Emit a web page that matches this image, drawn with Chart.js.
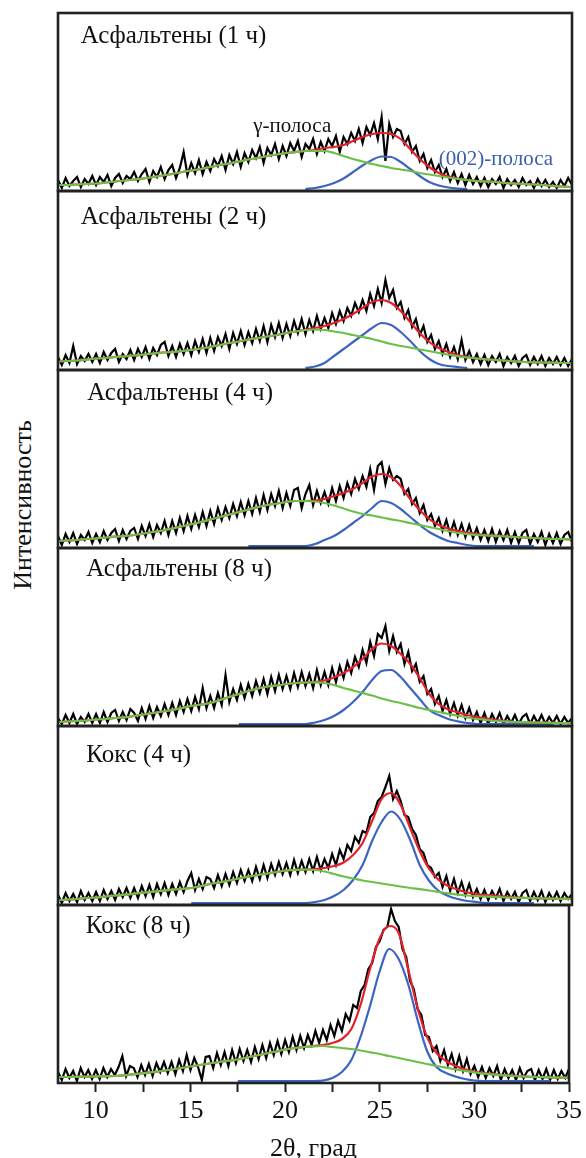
<!DOCTYPE html>
<html lang="ru">
<head>
<meta charset="utf-8">
<title>Рентгенограммы асфальтенов и кокса</title>
<script src="https://cdn.jsdelivr.net/npm/chart.js@4.4.1/dist/chart.umd.min.js"></script>
<style>
  html, body { margin: 0; padding: 0; background: #fff; overflow: hidden; }
  #wrap { position: relative; width: 586px; height: 1158px; }
  #wrap canvas { position: absolute; left: 0; }
  #ylab {
    position: absolute; left: 23px; top: 505px;
    transform: translate(-50%, -50%) rotate(-90deg);
    font: 26px "Liberation Serif", "Times New Roman", serif;
    color: #111; white-space: nowrap;
  }
</style>
</head>
<body>
<div id="wrap">
  <div id="ylab">Интенсивность</div>
</div>
<script>
// 2θ grids: raw scan and fitted profiles
var scanStart = 8, scanStep = 0.2;
var fitStart = 8, fitStep = 0.5;

var xMin = 8, xMax = 35;
var xLabelled = [10, 15, 20, 25, 30, 35];

var panelLabels = ['Асфальтены (1 ч)', 'Асфальтены (2 ч)', 'Асфальтены (4 ч)',
                   'Асфальтены (8 ч)', 'Кокс (4 ч)', 'Кокс (8 ч)'];

// raw intensity, one value per 0.2 deg from 8 to 35
var raw1 = [9,1,11,3,8,12,2,10,5,13, 4,12,7,14,3,11,15,6,13,10, 17,8,15,20,7,18,12,22,10,19,
  24,11,21,37,14,26,16,29,15,27, 18,30,23,33,19,34,25,37,22,36, 27,39,31,42,26,41,34,45,30,43,
  33,46,38,48,32,45,40,50,35,47, 38,50,43,53,37,52,45,56,48,60, 46,62,54,66,50,72,28,65,52,60,
  58,45,52,37,43,28,35,21,29,17, 24,12,20,8,17,6,15,4,14,5, 12,3,11,2,10,5,12,1,10,4,
  9,2,11,4,8,1,10,3,9,2, 7,1,9,3,11,4];
var raw2 = [11,3,13,5,22,4,12,7,14,6, 14,5,16,8,15,19,6,14,9,18, 8,19,11,21,9,20,13,23,26,12,
  22,11,24,14,25,13,27,16,29,15, 30,17,31,22,34,19,35,24,37,23, 36,25,39,27,42,26,43,31,45,30,
  44,32,47,35,49,34,48,37,52,39, 50,40,55,44,57,47,60,52,65,56, 68,57,74,62,79,65,88,70,78,60,
  66,50,58,41,49,33,42,26,33,19, 27,14,24,11,21,9,28,8,17,6, 14,4,13,3,12,6,14,2,11,5,
  12,2,10,13,3,11,4,12,2,10, 4,11,3,10,2,9];
var raw3 = [10,1,12,4,13,2,11,6,14,3, 12,4,15,6,13,17,5,16,7,15, 18,7,20,10,22,9,21,13,25,11,
  25,13,28,15,30,17,31,19,34,20, 35,22,38,26,39,28,42,30,44,31, 45,32,48,34,51,36,52,40,55,38,
  53,40,56,58,38,52,61,41,55,43, 54,42,58,45,60,48,63,52,67,57, 70,59,77,56,80,84,62,78,66,70,
  67,52,57,42,48,33,41,26,32,20, 28,15,26,12,24,11,22,9,21,8, 18,6,16,5,17,4,15,6,16,3,
  14,3,13,16,2,12,4,14,1,12, 3,13,2,11,14,4];
var raw4 = [6,0,9,1,10,0,7,2,10,1, 10,1,12,2,11,14,3,12,4,15, 11,3,16,5,18,6,17,8,20,9,
  21,9,23,12,25,13,27,15,36,16, 28,16,31,19,49,22,35,24,39,26, 40,28,43,31,45,30,47,33,49,35,
  48,35,51,37,52,38,50,36,54,39, 52,39,56,42,58,46,62,51,67,57, 74,61,82,68,90,86,98,73,88,72,
  80,60,72,53,60,42,48,30,35,20, 28,13,24,10,21,8,19,6,16,4, 12,1,11,0,10,2,11,0,8,1,
  9,0,7,10,0,8,1,9,0,7, 1,8,0,7,1,6];
var raw5 = [8,0,10,2,9,1,12,3,10,2, 11,2,13,4,12,3,14,6,15,5, 15,5,17,7,18,6,19,9,20,8,
  19,9,21,11,22,30,13,24,14,26, 24,15,28,17,29,18,31,20,33,22, 33,22,36,24,38,25,39,28,41,29,
  40,28,43,30,42,31,44,32,46,33, 44,35,49,38,53,44,58,52,66,60, 72,70,86,90,102,106,116,127,104,112,
  102,88,86,74,68,54,50,38,35,26, 30,16,27,12,24,10,21,8,19,6, 14,4,13,3,12,5,14,2,11,4,
  11,1,10,13,2,11,3,12,1,10, 3,11,2,10,4,9];
var raw6 = [9,1,12,3,10,0,13,4,11,2, 11,2,13,4,12,6,14,25,5,15, 13,4,16,6,17,5,18,9,19,8,
  19,7,21,10,26,11,23,14,1,24, 25,13,28,16,29,15,31,18,32,20, 31,19,34,22,36,23,38,26,40,27,
  41,29,44,31,45,33,46,36,50,38, 51,41,56,45,60,50,67,60,76,73, 90,96,112,118,134,140,151,154,172,160,
  154,132,124,100,92,72,66,46,44,30, 35,20,31,16,27,12,25,10,22,7, 15,4,14,3,13,5,15,1,12,3,
  11,1,13,3,10,12,1,11,2,12, 1,11,2,10,3,12];

// fitted profiles, one value per 0.5 deg from 8 to 35
// gamma band (green)
var gamma1 = [4,4,4.5,5,5.5,6.5,7.5,8.5,9.5,10.5, 12,13.5,15,17,18.5,20,22,24,25.5,27.5,
  29.5,31,33,34.5,36,37,38,38,38,36, 33,30,27.5,25,23,21,19.5,18,16,14.5,
  13,11.5,10,9,8,7.5,7,6,5.5,5, 4.5,4,3,2.5,2];
var gamma2 = [6.5,7,7.5,8.5,9.5,10,11,11.7,12.5,13.5, 14.5,15.5,16,17,18,19.5,21,23,25,26.5,
  28.5,30,31.5,33,35,36.5,38,38.5,38,36.5, 35,33,31,29,26.5,24,22,20.5,18.5,17,
  15,13.5,11.7,10.5,9.5,8.7,8,7.3,6.7,6, 5.7,5.5,5.3,5,5];
var gamma3 = [5,5.5,6,7,7.5,8.5,9.3,10,11,12.5, 14,15.5,17.5,19.5,21.7,24,26.5,29,31.5,34,
  36.5,39,41,42.5,44,45,45,44.5,43,40.5, 37.5,34.5,32,30.5,28.5,26.7,25,23,21,19,
  17,15,13,12,11,10.5,10,9.5,9,8.5, 8,7.5,7,7,6.5];
var gamma4 = [2,2.5,3,3.5,4.5,5,6,6.7,8,9.5, 11,12.5,14,16,18,19.5,21,24,27,30,
  33,35.5,37.5,38.5,40,41,41.5,41.7,41,39, 36,33.5,31,28.5,25.5,23,21,18.5,16,14,
  12,10,8.3,6.7,5,4,3,2.5,2,1.8, 1.5,1.3,1.2,1,1];
var gamma5 = [2.7,3.5,4,5,5.5,6.5,7.5,8.3,9.3,10.3, 11.3,12.3,13.3,14.2,15,17,19,20.7,22.5,24.5,
  26.3,28,29.5,31,32.5,33.2,33.5,33,31.5,29, 26.5,24.5,22.5,21,19.5,18,16.5,15,13.8,12.5,
  11,9.7,8.3,7.5,6.8,6.3,5.9,5.5,5.2,5, 4.7,4.5,4.3,4.1,4];
var gamma6 = [4,4,4.2,4.4,4.6,4.8,5,5.8,6.8,7.8, 8.8,10,11.5,13,14.5,16,17.5,19,20.3,21.5,
  23.5,25.5,27.5,29.5,31.5,33,34,34.7,35,34, 33,32,30.5,28.7,27,25,23,21,19,17,
  15,13.3,11.7,10.2,8.7,7.3,6.3,5.6,5,4.6, 4.2,3.9,3.6,3.4,3.3];

// (002) band (blue)
var n10 = [null,null,null,null,null,null,null,null,null,null];
var band1 = [].concat(n10, n10, [null,null,null,null,null,null,0,1,3,6],
  [10.5,17,23.5,29,32.5,32,27,20,13,7], [3.5,1.5,0.5,0,null,null,null,null,null,null],
  [null,null,null,null,null]);
var band2 = [].concat(n10, n10, [null,null,null,null,null,null,0,1.5,5,12],
  [19,26,33,40,45,43,36,27,17,9], [4,2,1,0,null,null,null,null,null,null],
  [null,null,null,null,null]);
var band3 = [].concat(n10, n10, [0,0,0,0,0,0,0,2,6,10],
  [16,23,30,38,45,43,37,29,21,14], [9,5,3,1,0,0,0,0,0,0],
  [0,null,null,null,null]);
var band4 = [].concat(n10, [null,null,null,null,null,null,null,null,null,0], [0,0,0,0,0,0,0,1.5,4,8],
  [14,22,32,44,53,54,47,36,25,14], [9,5,2.7,1,0,0,0,0,0,0],
  [0,0,0,null,null]);
var band5 = [].concat(n10, [null,null,null,null,0,0,0,0,0,0], [0,0,0,0,0,0,0,1,3,7],
  [13,23,38,62,81,91.5,83,63,38,22], [12,7,4,2,1,0,0,0,0,0],
  [0,null,null,null,null]);
var band6 = [].concat(n10, [null,null,null,null,null,null,null,null,null,0], [0,0,0,0,0,0,0,0,0.5,3],
  [9,21,45,76,110,132,122,97,61,30], [14,8,4.5,2,0.5,0,0,0,0,0],
  [0,0,0,null,null]);

// total fit (red)
var fit1 = [4,4,4.5,5,5.5,6.5,7.5,8.5,9.5,10.5, 12,13.5,15,17,18.5,20,22,24,25.5,27.5,
  29.5,31,33,34.5,36,37,38,39,41,42, 44,48,52,55,56,55,50,40,30,22,
  16,12.5,10.5,9,8,7.5,7,6,5.5,5, 4.5,4,3,2.5,2];
var fit2 = [6.5,7,7.5,8.5,9.5,10,11,11.7,12.5,13.5, 14.5,15.5,16,17,18,19.5,21,23,25,26.5,
  28.5,30,31.5,33,35,36.5,38.5,40,42,45, 49,54,60,66,68,65,57,46,35,26,
  20,16,13,11,9.5,8.7,8,7.3,6.7,6, 5.7,5.5,5.3,5,5];
var fit3 = [5,5.5,6,7,7.5,8.5,9.3,10,11,12.5, 14,15.5,17.5,19.5,21.7,24,26.5,29,31.5,34,
  36.5,39,41,42.5,44,45,45,45.5,47,50, 53,57,63,69.5,72,69,60,47,36,27,
  21,17.5,15,13.5,12,11,10.3,9.7,9,8.5, 8,7.5,7,7,6.5];
var fit4 = [2,2.5,3,3.5,4.5,5,6,6.7,8,9.5, 11,12.5,14,16,18,19.5,21,24,27,30,
  33,35.5,37.5,38.5,40,41,41.5,42,43.5,46.5, 51,57,65,75,80.5,78,70,60,46,30,
  20,14.5,11.7,9,7,5.5,4,3,2,1.8, 1.5,1.3,1.2,1,1];
var fit5 = [2.7,3.5,4,5,5.5,6.5,7.5,8.3,9.3,10.3, 11.3,12.3,13.3,14.2,15,17,19,20.7,22.5,24.5,
  26.3,28,29.5,31,32.5,33.2,33.5,34,35,37, 40.5,48,60,82,104,110,98,75,52,34,
  23,17,13.3,10.5,8.8,7.8,7,6.3,5.7,5.2, 4.7,4.5,4.3,4.1,4];
var fit6 = [4,4,4.2,4.4,4.6,4.8,5,5.8,6.8,7.8, 8.8,10,11.5,13,14.5,16,17.5,19,20.3,21.5,
  23.5,25.5,27.5,29.5,31.5,33,34,35,36,38, 42,52,77,113,143,155,148,112,73,44,
  28,20,15,11.7,9.5,8,7,6,5.3,4.6, 4.2,3.9,3.6,3.4,3.3];

var rawSets = [raw1, raw2, raw3, raw4, raw5, raw6];
var gammaSets = [gamma1, gamma2, gamma3, gamma4, gamma5, gamma6];
var bandSets = [band1, band2, band3, band4, band5, band6];
var fitSets = [fit1, fit2, fit3, fit4, fit5, fit6];

// panel layout (page pixels)
var panelTops = [13, 191, 370, 548, 726, 905];
var panelBottom = 1083;
var labelOffsets = [[22.7, 23.7], [22.7, 26.5], [29.3, 23], [28.3, 21.5], [28.3, 29], [27.7, 21.5]];
var axisHeight = 82;

var serif = '"Liberation Serif", "Times New Roman", serif';

function scanPoints(vals) {
	return vals.map(function(v, i) { return { x: +(scanStart + i * scanStep).toFixed(2), y: v }; });
}
function fitPoints(vals) {
	return vals.map(function(v, i) { return { x: fitStart + i * fitStep, y: v }; });
}

// frame round each panel plus its caption
var panelFrame = {
	id: 'panelFrame',
	afterDatasetsDraw: function(chart) {
		var ctx = chart.ctx, a = chart.chartArea;
		ctx.save();
		ctx.strokeStyle = '#222';
		ctx.lineWidth = 2.6;
		ctx.strokeRect(a.left, a.top, a.right - a.left, a.bottom - a.top);
		ctx.restore();
	},
	afterDraw: function(chart, args, opts) {
		var ctx = chart.ctx, a = chart.chartArea;
		ctx.save();
		ctx.textBaseline = 'middle';
		ctx.textAlign = 'left';
		ctx.font = '25px ' + serif;
		ctx.fillStyle = '#111';
		ctx.fillText(opts.label, a.left + opts.dx, a.top + opts.dy);
		(opts.notes || []).forEach(function(n) {
			ctx.font = n.size + 'px ' + serif;
			ctx.fillStyle = n.color;
			ctx.fillText(n.text, chart.scales.x.getPixelForValue(n.x), chart.scales.y.getPixelForValue(n.y));
		});
		ctx.restore();
	}
};

function drawPanel(p) {
	var isLast = (p === 5);
	var pTop = panelTops[p];
	var pBottom = isLast ? panelBottom : panelTops[p + 1];
	var pH = pBottom - pTop;

	var cv = document.createElement('canvas');
	cv.width = 586;
	cv.height = isLast ? pH + 2 + axisHeight : pH + 4;
	cv.style.top = (pTop - 2) + 'px';
	document.getElementById('wrap').appendChild(cv);

	var notes = [];
	if (p === 0) {
		notes = [
			{ text: 'γ-полоса', x: 18.25, y: 63, size: 21, color: '#111' },
			{ text: '(002)-полоса', x: 28.0, y: 30, size: 21, color: '#3a5db0' }
		];
	}

	new Chart(cv, {
		type: 'line',
		data: {
			datasets: [
				{ label: 'γ-полоса', data: fitPoints(gammaSets[p]), borderColor: '#6cc04a', borderWidth: 2.2,
				  cubicInterpolationMode: 'monotone', order: 1 },
				{ label: 'Сумма', data: fitPoints(fitSets[p]), borderColor: '#e4202a', borderWidth: 2.2,
				  cubicInterpolationMode: 'monotone', order: 2 },
				{ label: '(002)-полоса', data: fitPoints(bandSets[p]), borderColor: '#3c64c2', borderWidth: 2.2,
				  cubicInterpolationMode: 'monotone', order: 3 },
				{ label: 'Эксперимент', data: scanPoints(rawSets[p]), borderColor: '#000', borderWidth: 2.2,
				  tension: 0, order: 4 }
			]
		},
		options: {
			responsive: false,
			animation: false,
			events: [],
			layout: { padding: { left: 58, right: 14, top: 2, bottom: isLast ? 0 : 2 } },
			elements: { point: { radius: 0 }, line: { fill: false, borderJoinStyle: 'miter' } },
			plugins: {
				legend: { display: false },
				tooltip: { enabled: false },
				panelFrame: { label: panelLabels[p], dx: labelOffsets[p][0], dy: labelOffsets[p][1], notes: notes }
			},
			scales: {
				x: {
					type: 'linear',
					min: xMin,
					max: xMax,
					display: isLast,
					border: { display: false },
					grid: { drawOnChartArea: false, drawTicks: true, tickLength: 9, tickWidth: 2, tickColor: '#222' },
					ticks: {
						stepSize: 2.5,
						padding: 4,
						maxRotation: 0,
						autoSkip: false,
						color: '#111',
						font: { family: serif, size: 26 },
						callback: function(v) { return xLabelled.indexOf(v) >= 0 ? String(v) : ''; }
					},
					afterBuildTicks: function(s) {
						s.ticks = s.ticks.filter(function(t) { return t.value >= 10; });
					},
					afterFit: function(s) { if (s.options.display) s.height = axisHeight; },
					title: { display: true, text: '2θ, град', color: '#111', font: { family: serif, size: 26 },
					         padding: { top: 4, bottom: 0 } }
				},
				y: { display: false, min: -2, max: pH - 2 }
			}
		},
		plugins: [panelFrame]
	});
}

for (var i = 0; i < 6; i++) drawPanel(i);
</script>
</body>
</html>
